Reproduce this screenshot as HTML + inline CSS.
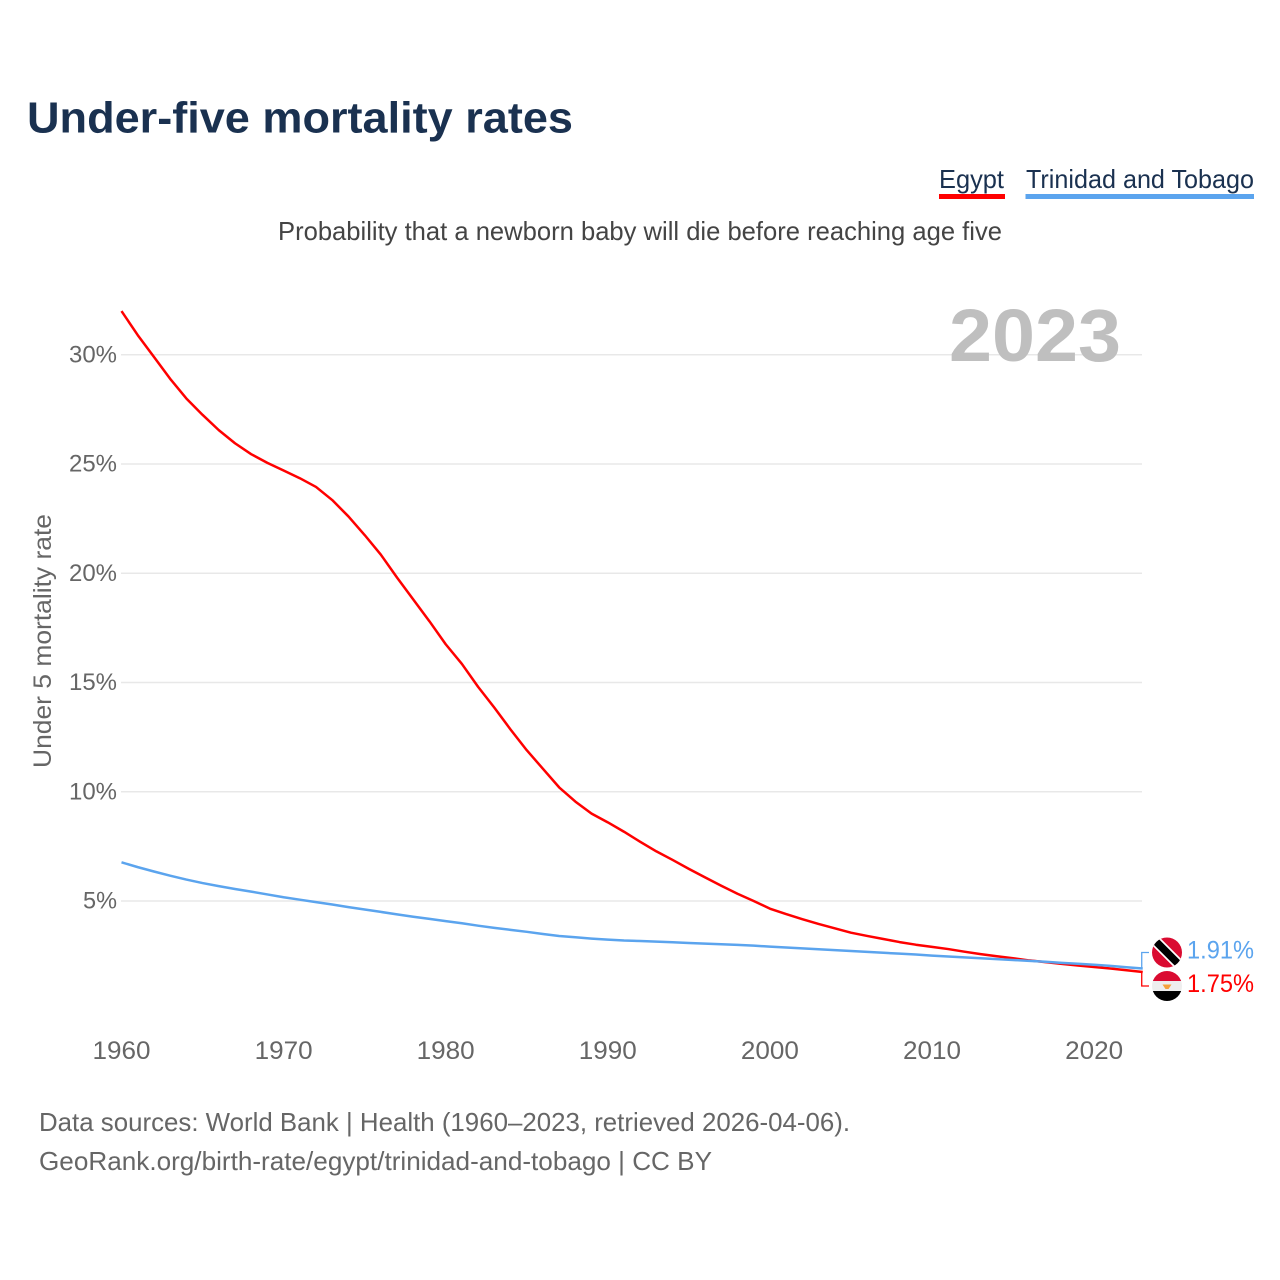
<!DOCTYPE html>
<html lang="en">
<head>
<meta charset="utf-8">
<title>Under-five mortality rates</title>
<style>
html,body{margin:0;padding:0;background:#fff;width:1280px;height:1280px;overflow:hidden}
svg{display:block}
text{font-family:"Liberation Sans",sans-serif}
</style>
</head>
<body>
<svg id="chart" width="1280" height="1280" viewBox="0 0 1280 1280" xmlns="http://www.w3.org/2000/svg">
  <defs>
    <clipPath id="flag-clip-tt"><circle cx="0" cy="0" r="15"/></clipPath>
    <clipPath id="flag-clip-eg"><circle cx="0" cy="0" r="15"/></clipPath>
  </defs>
  <text x="27" y="132.5" font-size="44" font-weight="700" fill="#1a3150" textLength="546" lengthAdjust="spacingAndGlyphs">Under-five mortality rates</text>
  <g>
    <g>
      <text x="939" y="188" font-size="26" fill="#1a3150" textLength="65" lengthAdjust="spacingAndGlyphs">Egypt</text>
      <rect x="939" y="194" width="66" height="5" fill="#ff0000"/>
    </g>
    <g>
      <text x="1026" y="188" font-size="26" fill="#1a3150" textLength="228" lengthAdjust="spacingAndGlyphs">Trinidad and Tobago</text>
      <rect x="1025.5" y="194" width="228.5" height="5" fill="#5ba4ee"/>
    </g>
  </g>
  <text x="278" y="240" font-size="26" fill="#444444" textLength="724" lengthAdjust="spacingAndGlyphs">Probability that a newborn baby will die before reaching age five</text>
  <g id="grid"></g>
  <g id="ytick-labels"></g>
  <g id="xtick-labels"></g>
  <text x="0" y="0" transform="translate(51,768) rotate(-90)" font-size="25" fill="#666666" textLength="254" lengthAdjust="spacingAndGlyphs">Under 5 mortality rate</text>
  <text x="949" y="361" font-size="74" font-weight="700" fill="#bfbfbf" textLength="172" lengthAdjust="spacingAndGlyphs">2023</text>
  <g id="series"></g>
  <g id="ends"></g>
  <g>
    <text x="39" y="1131" font-size="26" fill="#666666" textLength="811" lengthAdjust="spacingAndGlyphs">Data sources: World Bank | Health (1960–2023, retrieved 2026-04-06).</text>
    <text x="39" y="1170" font-size="26" fill="#666666" textLength="673" lengthAdjust="spacingAndGlyphs">GeoRank.org/birth-rate/egypt/trinidad-and-tobago | CC BY</text>
  </g>
</svg>
<script>
const years = [1960,1961,1962,1963,1964,1965,1966,1967,1968,1969,1970,1971,1972,1973,1974,1975,1976,1977,1978,1979,1980,1981,1982,1983,1984,1985,1986,1987,1988,1989,1990,1991,1992,1993,1994,1995,1996,1997,1998,1999,2000,2001,2002,2003,2004,2005,2006,2007,2008,2009,2010,2011,2012,2013,2014,2015,2016,2017,2018,2019,2020,2021,2022,2023];
const egypt = [32.0,30.9,29.9,28.9,28.0,27.25,26.55,25.95,25.45,25.05,24.7,24.35,23.95,23.35,22.6,21.75,20.85,19.8,18.8,17.8,16.75,15.85,14.8,13.85,12.85,11.9,11.05,10.2,9.55,9.0,8.6,8.17,7.71,7.27,6.88,6.47,6.08,5.7,5.33,5.0,4.65,4.4,4.17,3.95,3.75,3.55,3.4,3.26,3.12,3.0,2.9,2.8,2.68,2.57,2.47,2.38,2.28,2.2,2.12,2.05,1.98,1.91,1.83,1.75];
const trinidad = [6.77,6.55,6.35,6.16,5.98,5.82,5.68,5.55,5.43,5.3,5.17,5.06,4.95,4.84,4.72,4.61,4.5,4.39,4.28,4.18,4.08,3.98,3.87,3.77,3.68,3.59,3.49,3.4,3.34,3.28,3.23,3.19,3.17,3.14,3.11,3.08,3.05,3.02,2.99,2.96,2.91,2.87,2.83,2.79,2.75,2.71,2.67,2.63,2.59,2.55,2.5,2.46,2.42,2.38,2.34,2.3,2.26,2.22,2.17,2.13,2.08,2.03,1.97,1.91];
const yTicks = [5,10,15,20,25,30];
const yTickLabels = ["5%","10%","15%","20%","25%","30%"];
const xTicks = [1960,1970,1980,1990,2000,2010,2020];
const xTickLabels = ["1960","1970","1980","1990","2000","2010","2020"];

const SVGNS = "http://www.w3.org/2000/svg";
const x = yr => 121.5 + (yr - 1960) * 16.21;
const y = v => 1010.25 - v * 21.85;
const X_END = x(years[years.length - 1]);

function mk(parent, tag, attrs, text) {
  const el = document.createElementNS(SVGNS, tag);
  for (const k in attrs) el.setAttribute(k, attrs[k]);
  if (text !== undefined) el.textContent = text;
  parent.appendChild(el);
  return el;
}

const gridG = document.getElementById("grid");
const yG = document.getElementById("ytick-labels");
yTicks.forEach((t, i) => {
  const line = mk(gridG, "line", {x1: 121, x2: 1142, y1: y(t), y2: y(t), stroke: "#e8e8e8", "stroke-width": 1.5});
  
  
  const label = yTickLabels[i];
  const lab = mk(yG, "text", {x: 117, y: y(t) + 7.5, "font-size": 24, fill: "#666666", "text-anchor": "end", textLength: label.length === 2 ? 34 : 48, lengthAdjust: "spacingAndGlyphs"}, label);
  
  
});

const xG = document.getElementById("xtick-labels");
xTicks.forEach((t, i) => {
  const lab = mk(xG, "text", {x: x(t), y: 1059, "font-size": 25, fill: "#666666", "text-anchor": "middle", textLength: 58, lengthAdjust: "spacingAndGlyphs"}, xTickLabels[i]);
  
  
});

const seriesG = document.getElementById("series");
function pts(vals) { return vals.map((v, i) => x(years[i]).toFixed(2) + "," + y(v).toFixed(2)).join(" "); }
const lineEgypt = mk(seriesG, "polyline", {points: pts(egypt), fill: "none", stroke: "#ff0000", "stroke-width": 2.5, "stroke-linejoin": "round"});


const lineTT = mk(seriesG, "polyline", {points: pts(trinidad), fill: "none", stroke: "#5ba4ee", "stroke-width": 2.5, "stroke-linejoin": "round"});



const endsG = document.getElementById("ends");
const vTT = trinidad[trinidad.length - 1];
const vEG = egypt[egypt.length - 1];
const ttY = y(vTT) - 16;
const egY = y(vEG) + 14;

const connTT = mk(endsG, "polyline", {points: `${X_END - 1},${y(vTT)} ${X_END - 1},${ttY} 1149,${ttY}`, fill: "none", stroke: "#5ba4ee", "stroke-width": 1.3});


const connEG = mk(endsG, "polyline", {points: `${X_END - 1},${y(vEG)} ${X_END - 1},${egY} 1149,${egY}`, fill: "none", stroke: "#ff0000", "stroke-width": 1.3});



const flagTT = mk(endsG, "g", {transform: `translate(1167,${ttY})`, "clip-path": "url(#flag-clip-tt)"});


mk(flagTT, "rect", {x: -15, y: -15, width: 30, height: 30, fill: "#da0b31"});
mk(flagTT, "line", {x1: -15, y1: -15, x2: 15, y2: 15, stroke: "#ffffff", "stroke-width": 11});
mk(flagTT, "line", {x1: -15, y1: -15, x2: 15, y2: 15, stroke: "#000000", "stroke-width": 7.5});

const flagEG = mk(endsG, "g", {transform: `translate(1167,${egY})`, "clip-path": "url(#flag-clip-eg)"});


mk(flagEG, "rect", {x: -15, y: -15, width: 30, height: 10, fill: "#da0b31"});
mk(flagEG, "rect", {x: -15, y: -5, width: 30, height: 10, fill: "#eeeeee"});
mk(flagEG, "rect", {x: -15, y: 5, width: 30, height: 10, fill: "#000000"});
mk(flagEG, "path", {d: "M-4.5,-1.5 L4.5,-1.5 L1.5,3 L-1.5,3 Z", fill: "#f5a13c"});

const labTT = mk(endsG, "text", {x: 1187, y: ttY + 6, "font-size": 25, fill: "#5ba4ee", textLength: 67, lengthAdjust: "spacingAndGlyphs"}, vTT.toFixed(2) + "%");


const labEG = mk(endsG, "text", {x: 1187, y: egY + 6, "font-size": 25, fill: "#ff0000", textLength: 67, lengthAdjust: "spacingAndGlyphs"}, vEG.toFixed(2) + "%");


</script>
</body>
</html>
